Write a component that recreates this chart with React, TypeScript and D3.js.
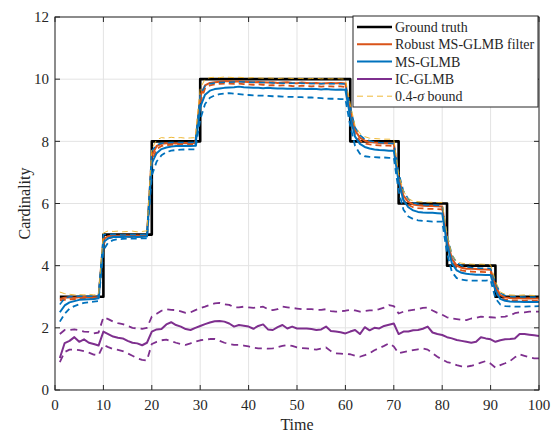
import React from "react";
import * as d3 from "d3";

// step times and ground-truth cardinality
const truthTimes = [1, 10, 20, 30, 61, 71, 81, 91, 100];
const truthCounts = [3, 5, 8, 10, 8, 6, 4, 3, 3];

const robust = [
  2.93, 2.97, 2.98, 2.97, 2.98, 2.99, 2.98, 2.98, 2.99,
  4.85, 4.95, 4.97, 4.96, 4.97, 4.97, 4.96, 4.97, 4.96, 4.97,
  7.55, 7.85, 7.92, 7.94, 7.95, 7.93, 7.95, 7.95, 7.94, 7.95,
  9.45, 9.8, 9.88, 9.9, 9.92, 9.93, 9.93, 9.92, 9.93, 9.92, 9.91,
  9.9, 9.91, 9.9, 9.89, 9.9, 9.88, 9.89, 9.9, 9.88, 9.87, 9.89, 9.88, 9.87, 9.88, 9.86, 9.87, 9.88, 9.87, 9.88, 9.86,
  9.0, 8.35, 8.12, 8.02, 7.98, 7.96, 7.95, 7.94, 7.94, 7.93,
  6.8, 6.25, 6.05, 5.97, 5.94, 5.93, 5.92, 5.92, 5.91, 5.9,
  4.85, 4.22, 4.0, 3.93, 3.9, 3.9, 3.89, 3.88, 3.88, 3.87,
  3.35, 3.05, 2.98, 2.96, 2.95, 2.95, 2.94, 2.95, 2.94, 2.94,
];

const robustLo = [
  2.88, 2.9, 2.92, 2.92, 2.93, 2.94, 2.94, 2.94, 2.95,
  4.7, 4.88, 4.92, 4.92, 4.93, 4.93, 4.92, 4.93, 4.93, 4.93,
  7.35, 7.75, 7.85, 7.88, 7.89, 7.88, 7.89, 7.9, 7.89, 7.9,
  9.25, 9.7, 9.8, 9.83, 9.85, 9.86, 9.86, 9.85, 9.86, 9.84, 9.83,
  9.82, 9.83, 9.82, 9.8, 9.81, 9.79, 9.8, 9.8, 9.78, 9.77, 9.79, 9.78, 9.77, 9.78, 9.76, 9.77, 9.77, 9.76, 9.77, 9.75,
  8.85, 8.22, 8.02, 7.93, 7.9, 7.88, 7.87, 7.86, 7.86, 7.85,
  6.65, 6.12, 5.95, 5.88, 5.85, 5.84, 5.83, 5.83, 5.82, 5.81,
  4.7, 4.12, 3.92, 3.85, 3.82, 3.81, 3.8, 3.8, 3.79, 3.79,
  3.25, 2.97, 2.91, 2.89, 2.88, 2.88, 2.87, 2.88, 2.87, 2.87,
];

const robustHi = [
  3.15, 3.1, 3.08, 3.06, 3.07, 3.06, 3.08, 3.06, 3.07,
  5.05, 5.12, 5.1, 5.11, 5.09, 5.1, 5.11, 5.09, 5.1, 5.12,
  7.75, 8.05, 8.12, 8.1, 8.13, 8.11, 8.12, 8.1, 8.11, 8.12,
  9.7, 10.0, 10.05, 10.06, 10.05, 10.07, 10.06, 10.05, 10.06, 10.05, 10.04,
  10.05, 10.04, 10.03, 10.04, 10.03, 10.02, 10.03, 10.04, 10.02, 10.03, 10.02, 10.01, 10.02, 10.03, 10.01, 10.02, 10.01, 10.02, 10.01, 10.0,
  9.2, 8.5, 8.25, 8.15, 8.1, 8.09, 8.08, 8.07, 8.07, 8.06,
  6.95, 6.4, 6.15, 6.08, 6.06, 6.05, 6.04, 6.04, 6.03, 6.03,
  5.0, 4.35, 4.12, 4.08, 4.06, 4.05, 4.04, 4.05, 4.04, 4.03,
  3.5, 3.15, 3.08, 3.06, 3.05, 3.05, 3.06, 3.05, 3.04, 3.04,
];

const msGlmb = [
  2.5, 2.72, 2.82, 2.86, 2.9, 2.91, 2.92, 2.93, 2.95,
  4.75, 4.88, 4.92, 4.93, 4.92, 4.93, 4.93, 4.92, 4.93, 4.94,
  7.3, 7.62, 7.75, 7.8, 7.83, 7.85, 7.85, 7.86, 7.85, 7.86,
  9.1, 9.5, 9.63, 9.68, 9.7, 9.72, 9.73, 9.74, 9.76, 9.74, 9.73,
  9.72, 9.72, 9.71, 9.72, 9.71, 9.7, 9.7, 9.69, 9.69, 9.7, 9.69, 9.68, 9.69, 9.68, 9.67, 9.68, 9.67, 9.66, 9.67, 9.66,
  8.8, 8.15, 7.92, 7.82, 7.77, 7.74, 7.72, 7.71, 7.7, 7.7,
  6.7, 6.1, 5.88, 5.78, 5.73, 5.71, 5.7, 5.7, 5.69, 5.68,
  4.7, 4.08, 3.85, 3.77, 3.74, 3.72, 3.71, 3.71, 3.7, 3.7,
  3.2, 2.93, 2.87, 2.85, 2.84, 2.84, 2.83, 2.84, 2.83, 2.83,
];

const msLo = [
  2.2, 2.45, 2.62, 2.7, 2.76, 2.8, 2.82, 2.84, 2.86,
  4.5, 4.75, 4.82, 4.85, 4.86, 4.87, 4.87, 4.87, 4.88, 4.88,
  6.9, 7.35, 7.55, 7.65, 7.7, 7.72, 7.73, 7.74, 7.74, 7.74,
  8.7, 9.2, 9.4, 9.48, 9.52, 9.54, 9.55, 9.53, 9.52, 9.5, 9.49,
  9.48, 9.47, 9.47, 9.46, 9.45, 9.45, 9.44, 9.43, 9.43, 9.42, 9.42, 9.41, 9.41, 9.4, 9.39, 9.38, 9.37, 9.37, 9.36, 9.36,
  8.5, 7.85, 7.6, 7.52, 7.5, 7.49, 7.48, 7.48, 7.47, 7.47,
  6.4, 5.8, 5.58, 5.5, 5.46, 5.44, 5.43, 5.42, 5.42, 5.42,
  4.4, 3.8, 3.6, 3.55, 3.53, 3.52, 3.52, 3.52, 3.52, 3.53,
  2.95, 2.75, 2.7, 2.69, 2.68, 2.68, 2.68, 2.69, 2.69, 2.7,
];

const msHi = [
  2.75, 2.95, 3.0, 3.0, 3.02, 3.01, 3.02, 3.02, 3.03,
  5.0, 5.0, 5.01, 5.0, 4.99, 5.0, 5.0, 4.99, 5.0, 5.0,
  7.7, 7.88, 7.94, 7.95, 7.96, 7.97, 7.96, 7.97, 7.96, 7.97,
  9.5, 9.78, 9.85, 9.88, 9.89, 9.9, 9.9, 9.91, 9.92, 9.91, 9.9,
  9.9, 9.89, 9.89, 9.9, 9.88, 9.88, 9.87, 9.87, 9.87, 9.88, 9.87, 9.86, 9.86, 9.86, 9.85, 9.86, 9.85, 9.85, 9.85, 9.84,
  9.1, 8.45, 8.2, 8.07, 8.02, 7.98, 7.96, 7.95, 7.94, 7.93,
  7.0, 6.4, 6.15, 6.03, 5.98, 5.96, 5.95, 5.95, 5.94, 5.93,
  5.0, 4.35, 4.1, 4.0, 3.96, 3.94, 3.93, 3.92, 3.92, 3.91,
  3.45, 3.12, 3.04, 3.01, 3.0, 3.0, 2.99, 2.99, 2.99, 2.98,
];

const icGlmb = [
  1.03, 1.51, 1.58, 1.7, 1.55, 1.63, 1.52, 1.48, 1.43, 1.88,
  1.8, 1.72, 1.68, 1.66, 1.58, 1.52, 1.5, 1.44, 1.52, 1.88,
  1.95, 1.96, 2.11, 2.18, 2.09, 2.04, 1.96, 1.93, 2.0, 2.06,
  2.12, 2.17, 2.21, 2.22, 2.2, 2.14, 2.04, 2.09, 2.07, 2.04,
  1.97, 2.06, 2.11, 1.95, 1.93, 2.02, 2.09, 1.98, 2.04, 1.98,
  1.98, 1.98, 1.96, 1.93, 1.95, 2.04, 1.9, 1.88, 1.86, 1.82,
  1.88, 1.93, 1.8, 2.02, 1.92, 2.0, 1.98, 2.06, 2.1, 2.14,
  1.8, 1.88, 1.88, 1.92, 1.93, 1.97, 2.04, 1.85, 1.8, 1.77,
  1.7, 1.66, 1.61, 1.58, 1.55, 1.52, 1.55, 1.7, 1.66, 1.63,
  1.55, 1.6, 1.63, 1.64, 1.66, 1.8, 1.8, 1.78, 1.76, 1.74,
];

const icHi = [
  1.8, 1.93, 1.93, 1.95, 1.92, 1.88, 1.87, 1.82, 1.85, 2.34,
  2.28, 2.2, 2.15, 2.12, 2.06, 2.0, 1.98, 1.97, 2.0, 2.36,
  2.45, 2.55, 2.6, 2.58, 2.57, 2.53, 2.48, 2.5, 2.57, 2.63,
  2.68, 2.74, 2.79, 2.8, 2.76, 2.74, 2.66, 2.66, 2.68, 2.66,
  2.64, 2.66, 2.68, 2.6, 2.57, 2.6, 2.68, 2.66, 2.64, 2.62,
  2.6, 2.6, 2.6, 2.58, 2.58, 2.6, 2.54, 2.52, 2.53, 2.55,
  2.58, 2.56, 2.52, 2.54, 2.56, 2.56, 2.6, 2.65, 2.73, 2.7,
  2.46, 2.52, 2.55, 2.58, 2.6, 2.64, 2.65, 2.56, 2.48, 2.42,
  2.34, 2.3, 2.28, 2.26, 2.25, 2.3, 2.32, 2.36, 2.35, 2.34,
  2.33, 2.35, 2.36, 2.4, 2.47, 2.5, 2.5, 2.52, 2.52, 2.52,
];

const icLo = [
  0.9, 1.22, 1.3, 1.3, 1.28, 1.25, 1.2, 1.14, 1.12, 1.45,
  1.38, 1.32, 1.29, 1.25, 1.18, 1.1, 1.02, 0.97, 0.95, 1.48,
  1.55, 1.6, 1.62, 1.57, 1.52, 1.48, 1.45, 1.5, 1.56, 1.6,
  1.62, 1.64, 1.64, 1.58, 1.52, 1.48, 1.45, 1.45, 1.43, 1.4,
  1.36, 1.34, 1.34, 1.33, 1.34, 1.38, 1.42, 1.45, 1.42, 1.37,
  1.35, 1.34, 1.32, 1.3, 1.33, 1.37, 1.25, 1.18, 1.17, 1.16,
  1.15, 1.1, 1.07, 1.12, 1.18, 1.28, 1.35, 1.42, 1.5, 1.4,
  1.18, 1.22, 1.25, 1.28, 1.31, 1.34, 1.3, 1.18, 1.07, 0.98,
  0.9, 0.86, 0.8, 0.76, 0.75, 0.78, 0.82, 0.88, 0.93, 0.85,
  0.72, 0.8, 0.86, 0.93, 1.05, 1.15, 1.1, 1.05, 1.02, 1.02,
];

const xTicks = [0, 10, 20, 30, 40, 50, 60, 70, 80, 90, 100];
const yTicks = [0, 2, 4, 6, 8, 10, 12];
const legendLabels = ["Ground truth", "Robust MS-GLMB filter", "MS-GLMB", "IC-GLMB", "0.4-σ bound"];

const W = 551;
const H = 435;
const margin = { top: 17, right: 12, bottom: 45, left: 55 };
const axisColor = "#262626";
const font = "'Liberation Serif', 'Times New Roman', serif";
const BLACK = "#000000";
const ORANGE = "#D95319";
const BLUE = "#0072BD";
const PURPLE = "#7E2F8E";
const YELLOW = "#EDB120";

const App = () => {
  const innerW = W - margin.left - margin.right;
  const innerH = H - margin.top - margin.bottom;

  const x = d3.scaleLinear().domain([0, 100]).range([0, innerW]);
  const y = d3.scaleLinear().domain([0, 12]).range([innerH, 0]);

  const series = (vals: number[]) =>
    d3
      .line<number>()
      .x((_, i) => x(i + 1))
      .y((d) => y(d))(vals) || "";

  const truthPath =
    d3
      .line<number>()
      .x((_, i) => x(truthTimes[i]))
      .y((d) => y(d))
      .curve(d3.curveStepAfter)(truthCounts) || "";

  // draw order roughly follows MATLAB plot order
  const lines = [
    { d: truthPath, color: BLACK, w: 2.6, dash: "" },
    { d: series(robustLo), color: ORANGE, w: 1.8, dash: "6,4" },
    { d: series(robust), color: ORANGE, w: 2, dash: "" },
    { d: series(msLo), color: BLUE, w: 1.8, dash: "6,4" },
    { d: series(msHi), color: BLUE, w: 1.5, dash: "6,4" },
    { d: series(msGlmb), color: BLUE, w: 2, dash: "" },
    { d: series(robustHi), color: YELLOW, w: 0.9, dash: "6,4" },
    { d: series(icHi), color: PURPLE, w: 1.8, dash: "7,5" },
    { d: series(icLo), color: PURPLE, w: 1.8, dash: "7,5" },
    { d: series(icGlmb), color: PURPLE, w: 2, dash: "" },
  ];

  const legendStyles = [
    { color: BLACK, w: 2.6, dash: "" },
    { color: ORANGE, w: 2, dash: "" },
    { color: BLUE, w: 2, dash: "" },
    { color: PURPLE, w: 2, dash: "" },
    { color: YELLOW, w: 0.9, dash: "6,4" },
  ];

  const legX = 353 - margin.left;
  const legY = 16 - margin.top;
  const legW = 185;
  const legH = 91;

  return (
    <svg
      width={W}
      height={H}
      style={{ position: "absolute", left: 0, top: 0, background: "#fff" }}
      fontFamily={font}
    >
      <g transform={`translate(${margin.left},${margin.top})`}>
        <rect width={innerW} height={innerH} fill="#fff" />
        {/* grid */}
        {xTicks.map((t) => (
          <line key={`gx${t}`} x1={x(t)} x2={x(t)} y1={0} y2={innerH} stroke="#e3e3e3" strokeWidth={1} />
        ))}
        {yTicks.map((t) => (
          <line key={`gy${t}`} x1={0} x2={innerW} y1={y(t)} y2={y(t)} stroke="#e3e3e3" strokeWidth={1} />
        ))}

        <defs>
          <clipPath id="plot-clip">
            <rect width={innerW} height={innerH} />
          </clipPath>
        </defs>
        <g clipPath="url(#plot-clip)" fill="none" strokeLinejoin="round">
          {lines.map((l, i) => (
            <path key={i} d={l.d} stroke={l.color} strokeWidth={l.w} strokeDasharray={l.dash || undefined} />
          ))}
        </g>

        {/* axes box and ticks */}
        <rect width={innerW} height={innerH} fill="none" stroke={axisColor} strokeWidth={1} />
        {xTicks.map((t) => (
          <g key={`tx${t}`}>
            <line x1={x(t)} x2={x(t)} y1={innerH} y2={innerH - 5} stroke={axisColor} />
            <line x1={x(t)} x2={x(t)} y1={0} y2={5} stroke={axisColor} />
            <text x={x(t)} y={innerH + 20} textAnchor="middle" fontSize={15} fill={axisColor}>
              {t}
            </text>
          </g>
        ))}
        {yTicks.map((t) => (
          <g key={`ty${t}`}>
            <line x1={0} x2={5} y1={y(t)} y2={y(t)} stroke={axisColor} />
            <line x1={innerW} x2={innerW - 5} y1={y(t)} y2={y(t)} stroke={axisColor} />
            <text x={-6} y={y(t)} dy="0.35em" textAnchor="end" fontSize={15} fill={axisColor}>
              {t}
            </text>
          </g>
        ))}

        <text x={innerW / 2} y={innerH + 40} textAnchor="middle" fontSize={16} fill={axisColor}>
          Time
        </text>
        <text
          transform={`translate(${-25},${innerH / 2}) rotate(-90)`}
          textAnchor="middle"
          fontSize={16}
          fill={axisColor}
        >
          Cardinality
        </text>

        {/* legend */}
        <g transform={`translate(${legX},${legY})`}>
          <rect width={legW} height={legH} fill="#fff" stroke={axisColor} strokeWidth={1} />
          {legendLabels.map((lab, i) => {
            const ly = 11 + i * 17.3;
            const s = legendStyles[i];
            return (
              <g key={lab}>
                <line
                  x1={4}
                  x2={39}
                  y1={ly}
                  y2={ly}
                  stroke={s.color}
                  strokeWidth={s.w}
                  strokeDasharray={s.dash || undefined}
                />
                <text x={42} y={ly} dy="0.35em" fontSize={14} fill={axisColor}>
                  {i === 4 ? (
                    <>
                      0.4-<tspan fontStyle="italic">σ</tspan> bound
                    </>
                  ) : (
                    lab
                  )}
                </text>
              </g>
            );
          })}
        </g>
      </g>
    </svg>
  );
};

export default App;
